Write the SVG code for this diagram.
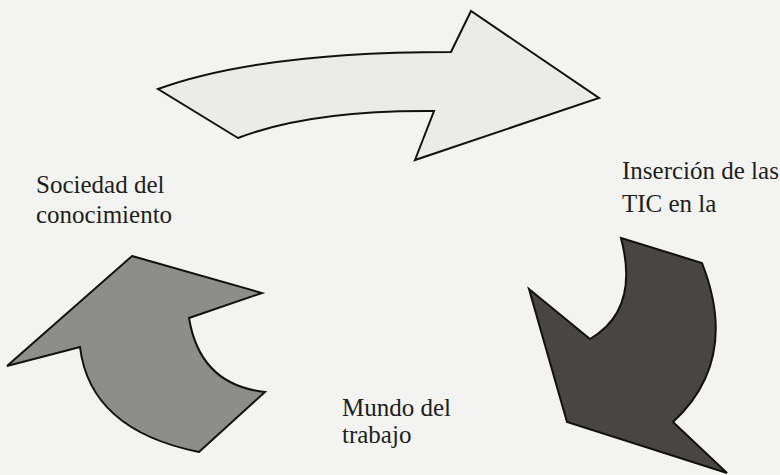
<svg xmlns="http://www.w3.org/2000/svg" width="780" height="475" viewBox="0 0 780 475">
<style>
.lbl{font-family:"Liberation Serif","Times New Roman",serif;font-size:25px;fill:#1e1e1e}
.arr{stroke:#111;stroke-width:2;stroke-linejoin:miter}
</style>
<rect width="780" height="475" fill="#f3f3f1"/>
<g id="connectors">
<path class="arr" fill="#ebebea" d="M158,89 Q260,52 451,52 L471,11 L599,98 L415,160 L434,111 Q310,110 238,138 Z"/>
<path class="arr" fill="#8d8d8c" d="M132,256 L262,293 L189,318 Q200,385 265,392 L199,452 Q90,430 80,347 L7,366 Z"/>
<path class="arr" fill="#4a4545" d="M621,238 L702,263 Q740,360 673,422 L727,473 L567,422 L529,289 L590,339 Q640,310 621,238 Z"/>
</g>
<g id="sociedad">
<text class="lbl" x="36" y="193">Sociedad del</text>
<text class="lbl" x="36" y="223">conocimiento</text>
</g>
<g id="insercion">
<text class="lbl" x="622" y="179">Inserción de las</text>
<text class="lbl" x="622" y="212">TIC en la</text>
</g>
<g id="mundo">
<text class="lbl" x="342" y="416">Mundo del</text>
<text class="lbl" x="342" y="443">trabajo</text>
</g>
</svg>
